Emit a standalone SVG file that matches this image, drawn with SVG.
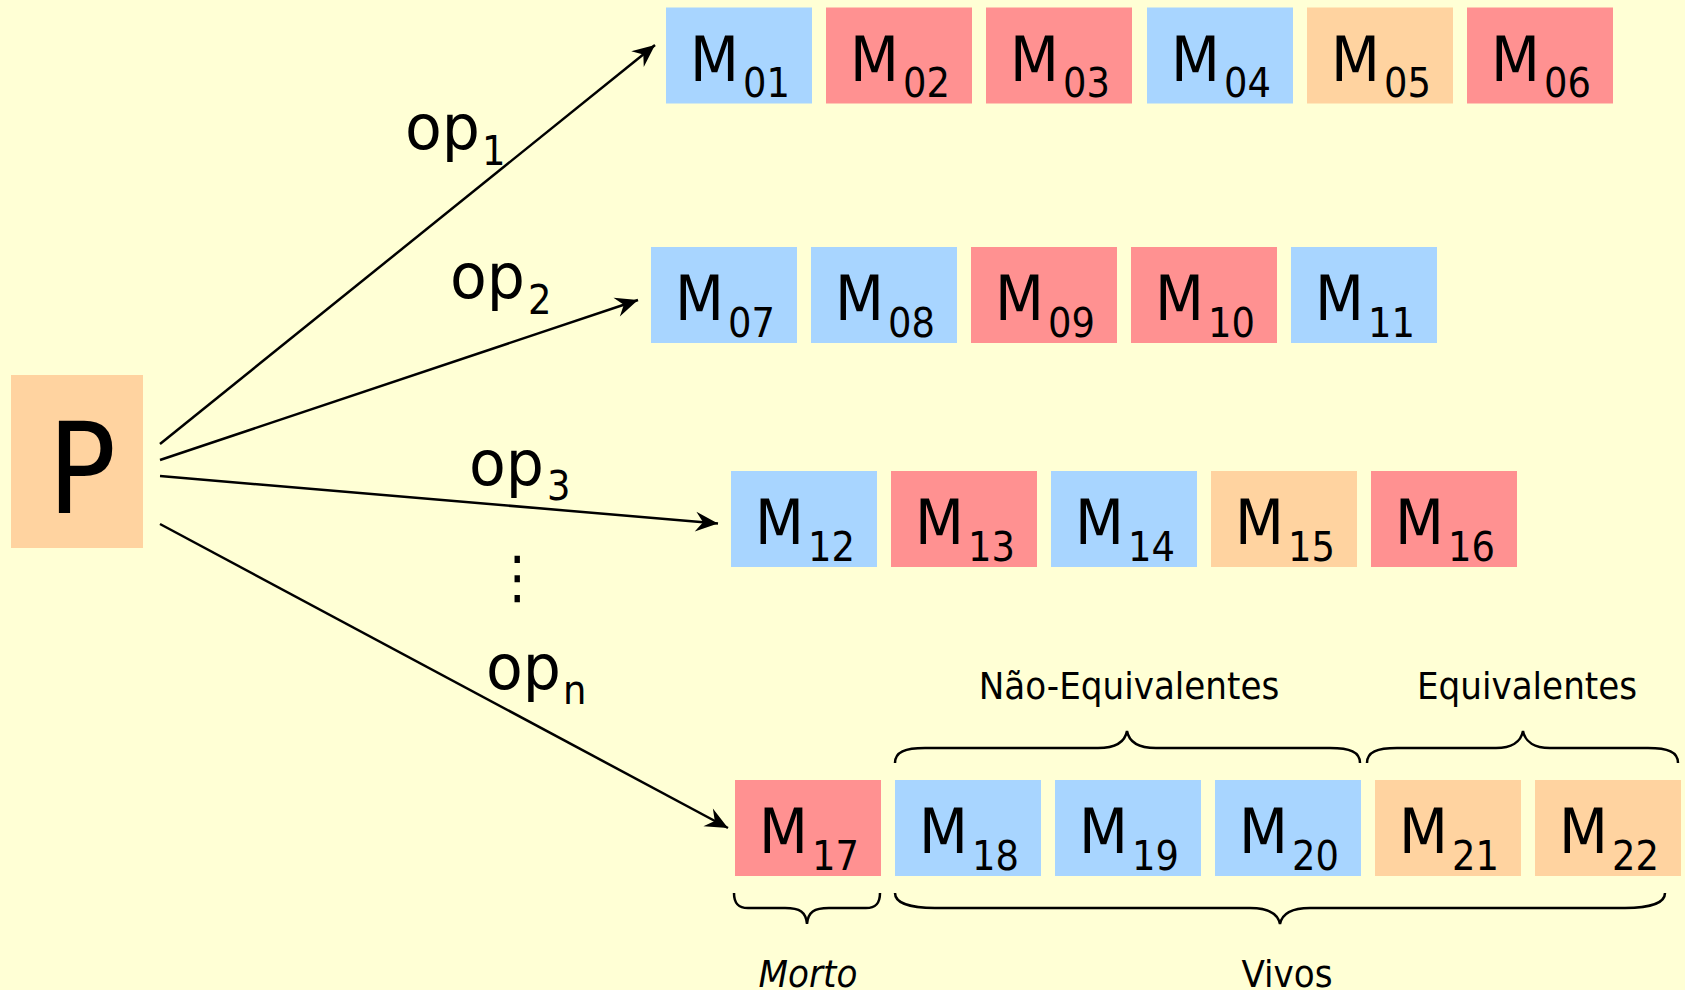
<svg xmlns="http://www.w3.org/2000/svg" width="1685" height="990" viewBox="0 0 1685 990">
<style>
text{font-family:'DejaVu Sans Condensed','DejaVu Sans',sans-serif;font-stretch:condensed;fill:#000}
.b{fill:#a8d5ff}.r{fill:#ff9191}.o{fill:#ffd3a0}
.m{font-size:63px}.s{font-size:41px}
.op{font-size:62px}.os{font-size:41px}
.lbl{font-size:38px;text-anchor:middle}
.br{fill:none;stroke:#000;stroke-width:2.5}
.ar{fill:none;stroke:#000;stroke-width:2.5;marker-end:url(#ah)}
</style>
<defs>
<marker id="ah" markerUnits="userSpaceOnUse" markerWidth="30" markerHeight="30" viewBox="-20 -10 24 20" refX="0" refY="0" orient="auto">
<path d="M0,0 L-18,-8 L-12,0 L-18,8 Z" fill="#000"/>
</marker>
</defs>
<rect width="1685" height="990" fill="#ffffd5"/>
<g id="P"><rect class="o" x="11" y="375" width="132" height="173"/><text x="82" y="513" font-size="126" text-anchor="middle">P</text></g>
<g id="connectors">
<line class="ar" x1="160" y1="444" x2="655" y2="45"/>
<line class="ar" x1="160" y1="460" x2="638" y2="300"/>
<line class="ar" x1="160" y1="476" x2="718" y2="523.5"/>
<line class="ar" x1="160" y1="524" x2="728" y2="828"/>
</g>
<g id="labels">
<text class="op" x="405" y="149" textLength="75" lengthAdjust="spacingAndGlyphs">op</text><text class="os" x="482" y="165">1</text>
<text class="op" x="450" y="298" textLength="75" lengthAdjust="spacingAndGlyphs">op</text><text class="os" x="528" y="314">2</text>
<text class="op" x="469" y="485" textLength="75" lengthAdjust="spacingAndGlyphs">op</text><text class="os" x="547" y="500">3</text>
<text class="op" x="486" y="689" textLength="75" lengthAdjust="spacingAndGlyphs">op</text><text class="os" x="563" y="704">n</text>
<text x="517" y="597" font-size="58" text-anchor="middle">⋮</text>
</g>
<g id="M01"><rect class="b" x="666" y="7.5" width="146" height="96"/><text class="m" x="690" y="81">M</text><text class="s" x="743" y="97">01</text></g>
<g id="M02"><rect class="r" x="826" y="7.5" width="146" height="96"/><text class="m" x="850" y="81">M</text><text class="s" x="903" y="97">02</text></g>
<g id="M03"><rect class="r" x="986" y="7.5" width="146" height="96"/><text class="m" x="1010" y="81">M</text><text class="s" x="1063" y="97">03</text></g>
<g id="M04"><rect class="b" x="1147" y="7.5" width="146" height="96"/><text class="m" x="1171" y="81">M</text><text class="s" x="1224" y="97">04</text></g>
<g id="M05"><rect class="o" x="1307" y="7.5" width="146" height="96"/><text class="m" x="1331" y="81">M</text><text class="s" x="1384" y="97">05</text></g>
<g id="M06"><rect class="r" x="1467" y="7.5" width="146" height="96"/><text class="m" x="1491" y="81">M</text><text class="s" x="1544" y="97">06</text></g>
<g id="M07"><rect class="b" x="651" y="247" width="146" height="96"/><text class="m" x="675" y="320">M</text><text class="s" x="728" y="337">07</text></g>
<g id="M08"><rect class="b" x="811" y="247" width="146" height="96"/><text class="m" x="835" y="320">M</text><text class="s" x="888" y="337">08</text></g>
<g id="M09"><rect class="r" x="971" y="247" width="146" height="96"/><text class="m" x="995" y="320">M</text><text class="s" x="1048" y="337">09</text></g>
<g id="M10"><rect class="r" x="1131" y="247" width="146" height="96"/><text class="m" x="1155" y="320">M</text><text class="s" x="1208" y="337">10</text></g>
<g id="M11"><rect class="b" x="1291" y="247" width="146" height="96"/><text class="m" x="1315" y="320">M</text><text class="s" x="1368" y="337">11</text></g>
<g id="M12"><rect class="b" x="731" y="471" width="146" height="96"/><text class="m" x="755" y="544">M</text><text class="s" x="808" y="561">12</text></g>
<g id="M13"><rect class="r" x="891" y="471" width="146" height="96"/><text class="m" x="915" y="544">M</text><text class="s" x="968" y="561">13</text></g>
<g id="M14"><rect class="b" x="1051" y="471" width="146" height="96"/><text class="m" x="1075" y="544">M</text><text class="s" x="1128" y="561">14</text></g>
<g id="M15"><rect class="o" x="1211" y="471" width="146" height="96"/><text class="m" x="1235" y="544">M</text><text class="s" x="1288" y="561">15</text></g>
<g id="M16"><rect class="r" x="1371" y="471" width="146" height="96"/><text class="m" x="1395" y="544">M</text><text class="s" x="1448" y="561">16</text></g>
<g id="M17"><rect class="r" x="735" y="780" width="146" height="96"/><text class="m" x="759" y="853">M</text><text class="s" x="812" y="870">17</text></g>
<g id="M18"><rect class="b" x="895" y="780" width="146" height="96"/><text class="m" x="919" y="853">M</text><text class="s" x="972" y="870">18</text></g>
<g id="M19"><rect class="b" x="1055" y="780" width="146" height="96"/><text class="m" x="1079" y="853">M</text><text class="s" x="1132" y="870">19</text></g>
<g id="M20"><rect class="b" x="1215" y="780" width="146" height="96"/><text class="m" x="1239" y="853">M</text><text class="s" x="1292" y="870">20</text></g>
<g id="M21"><rect class="o" x="1375" y="780" width="146" height="96"/><text class="m" x="1399" y="853">M</text><text class="s" x="1452" y="870">21</text></g>
<g id="M22"><rect class="o" x="1535" y="780" width="146" height="96"/><text class="m" x="1559" y="853">M</text><text class="s" x="1612" y="870">22</text></g>
<g id="braces">
<path class="br" d="M895,763 C895,752 905,748 925,748 L1098,748 C1115,748 1125,742 1127,731 C1129,742 1139,748 1156,748 L1330,748 C1350,748 1360,752 1360,763"/>
<path class="br" d="M1367,763 C1367,752 1377,748 1397,748 L1496,748 C1511,748 1521,742 1523,731 C1525,742 1535,748 1550,748 L1648,748 C1668,748 1678,752 1678,763"/>
<path class="br" d="M734,893 C734,903 738,908 748,908 L785,908 C800,908 806,912 807,924 C808,912 814,908 829,908 L866,908 C876,908 880,903 880,893"/>
<path class="br" d="M895,893 C895,903 910,908 935,908 L1250,908 C1270,908 1278,914 1280,924 C1282,914 1290,908 1310,908 L1625,908 C1650,908 1665,903 1665,893"/>
<text class="lbl" x="1129" y="699">Não-Equivalentes</text>
<text class="lbl" x="1527" y="699">Equivalentes</text>
<text class="lbl" x="808" y="987" font-style="italic">Morto</text>
<text class="lbl" x="1287" y="987">Vivos</text>
</g>
</svg>
